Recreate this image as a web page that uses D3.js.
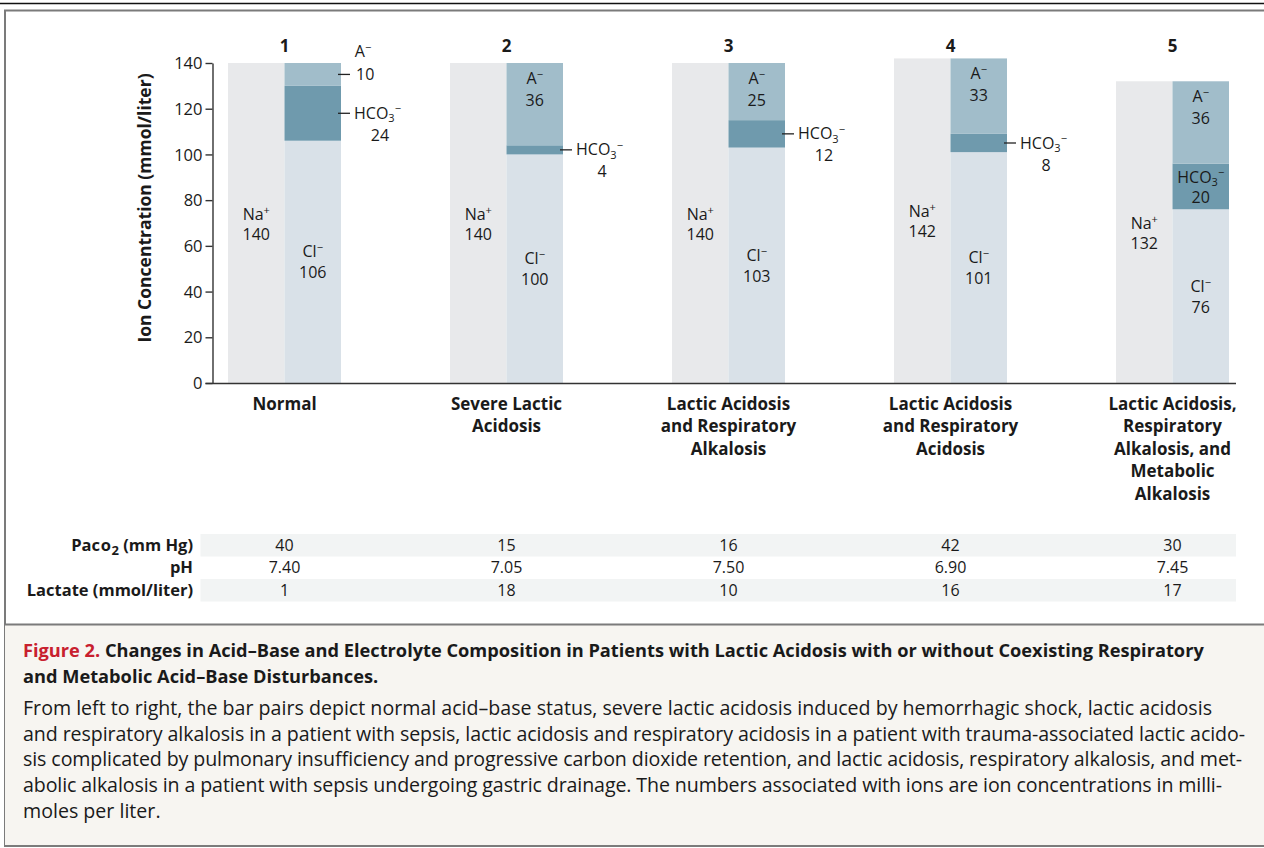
<!DOCTYPE html>
<html>
<head>
<meta charset="utf-8">
<script src="https://cdn.jsdelivr.net/npm/d3@7"></script>
<style>
  html, body { margin: 0; padding: 0; background: #fff; }
  svg { display: block; }
  text { font-family: "Open Sans", "Noto Sans", sans-serif; fill: #1a1a1a; }
</style>
</head>
<body>
<svg id="chart" width="1264" height="848"></svg>
<script>
// ---------------- DATA ----------------
const caseNumbers = ["1", "2", "3", "4", "5"];
const categoryLabels = [
  ["Normal"],
  ["Severe Lactic", "Acidosis"],
  ["Lactic Acidosis", "and Respiratory", "Alkalosis"],
  ["Lactic Acidosis", "and Respiratory", "Acidosis"],
  ["Lactic Acidosis,", "Respiratory", "Alkalosis, and", "Metabolic", "Alkalosis"]
];
const sodium      = [140, 140, 140, 142, 132];
const chloride    = [106, 100, 103, 101, 76];
const bicarbonate = [24, 4, 12, 8, 20];
const anionGap    = [10, 36, 25, 33, 36];
// label placement: true = label outside the bar with a leader line
const anionOutside = [true, false, false, false, false];
const bicarbOutside = [true, true, true, true, false];

const paco2   = ["40", "15", "16", "42", "30"];
const pH      = ["7.40", "7.05", "7.50", "6.90", "7.45"];
const lactate = ["1", "18", "10", "16", "17"];
const yTicks = [0, 20, 40, 60, 80, 100, 120, 140];

const captionTitle1 = "Changes in Acid\u2013Base and Electrolyte Composition in Patients with Lactic Acidosis with or without Coexisting Respiratory";
const captionTitle2 = "and Metabolic Acid\u2013Base Disturbances.";
const captionBody = [
  "From left to right, the bar pairs depict normal acid\u2013base status, severe lactic acidosis induced by hemorrhagic shock, lactic acidosis",
  "and respiratory alkalosis in a patient with sepsis, lactic acidosis and respiratory acidosis in a patient with trauma-associated lactic acido-",
  "sis complicated by pulmonary insufficiency and progressive carbon dioxide retention, and lactic acidosis, respiratory alkalosis, and met-",
  "abolic alkalosis in a patient with sepsis undergoing gastric drainage. The numbers associated with ions are ion concentrations in milli-",
  "moles per liter."
];

// ---------------- STYLE ----------------
const C = {
  na: "#e8e9eb", cl: "#d9e1e8", hco3: "#6f9aad", a: "#a1bdca",
  row: "#f2f4f4", capBg: "#f7f5f1", frame: "#7b7b7b", red: "#c8202e", axis: "#333"
};

const svg = d3.select("#chart");

// outer decoration
svg.append("line").attr("x1", 0).attr("x2", 1264).attr("y1", 3.5).attr("y2", 3.5)
  .attr("stroke", "#111").attr("stroke-width", 1.6);
svg.append("line").attr("x1", 4).attr("x2", 1264).attr("y1", 10.5).attr("y2", 10.5)
  .attr("stroke", C.frame).attr("stroke-width", 2);
svg.append("line").attr("x1", 5).attr("x2", 5).attr("y1", 10).attr("y2", 846)
  .attr("stroke", C.frame).attr("stroke-width", 2);
svg.append("rect").attr("x", 5).attr("y", 624.5).attr("width", 1262).attr("height", 221)
  .attr("fill", C.capBg);
svg.append("line").attr("x1", 4).attr("x2", 1264).attr("y1", 624.5).attr("y2", 624.5)
  .attr("stroke", C.frame).attr("stroke-width", 2);
svg.append("line").attr("x1", 4).attr("x2", 1264).attr("y1", 846).attr("y2", 846)
  .attr("stroke", C.frame).attr("stroke-width", 2);

// ---------------- SCALES ----------------
const y = d3.scaleLinear().domain([0, 140]).range([383, 63]);
const x = d3.scalePoint().domain(caseNumbers).range([284.5, 1172.5]);
const barW = 56.5;

const g = svg.append("g");

const data = caseNumbers.map((k, i) => ({
  k, i, na: sodium[i], cl: chloride[i], h: bicarbonate[i], a: anionGap[i]
}));

data.forEach(d => {
  const cx = x(d.k);
  g.append("rect").attr("x", cx - barW).attr("width", barW)
    .attr("y", y(d.na)).attr("height", y(0) - y(d.na)).attr("fill", C.na);
  g.append("rect").attr("x", cx).attr("width", barW)
    .attr("y", y(d.cl)).attr("height", y(0) - y(d.cl)).attr("fill", C.cl);
  g.append("rect").attr("x", cx).attr("width", barW)
    .attr("y", y(d.cl + d.h)).attr("height", y(d.cl) - y(d.cl + d.h)).attr("fill", C.hco3);
  g.append("rect").attr("x", cx).attr("width", barW)
    .attr("y", y(d.cl + d.h + d.a)).attr("height", y(d.cl + d.h) - y(d.cl + d.h + d.a)).attr("fill", C.a);
});

// axis
const axisG = svg.append("g").attr("transform", "translate(212.5,0)")
  .call(d3.axisLeft(y).tickValues(yTicks).tickSize(7).tickSizeOuter(0).tickPadding(3));
axisG.select(".domain").attr("stroke", C.axis).attr("stroke-width", 1.4);
axisG.selectAll(".tick line").attr("stroke", C.axis).attr("stroke-width", 1.4);
axisG.selectAll(".tick text").attr("font-size", 16.5).attr("font-family", "'Open Sans', sans-serif")
  .attr("fill", "#1a1a1a").attr("dy", "0.34em");
svg.append("line").attr("x1", 205.5).attr("x2", 1236).attr("y1", y(0) + 0.5).attr("y2", y(0) + 0.5)
  .attr("stroke", C.axis).attr("stroke-width", 1.4);

// y title
svg.append("text").attr("transform", "translate(151,208) rotate(-90)")
  .attr("text-anchor", "middle").attr("font-size", 17.5).attr("font-weight", 700)
  .text("Ion Concentration (mmol/liter)");

// label helpers
function ionName(sel, base, sup, sub) {
  sel.append("tspan").text(base);
  if (sub) sel.append("tspan").attr("dy", 3.5).attr("font-size", 11).text(sub);
  if (sup) sel.append("tspan").attr("dy", sub ? -10 : -6).attr("font-size", 11).text(sup);
}
function label(xp, yc, anchor, base, sup, sub) {
  const t = g.append("text").attr("x", xp).attr("y", yc + 5.6)
    .attr("text-anchor", anchor).attr("font-size", 16);
  ionName(t, base, sup, sub);
  return t;
}
function valueText(xp, yc, anchor, v) {
  return g.append("text").attr("x", xp).attr("y", yc + 5.6).attr("text-anchor", anchor)
    .attr("font-size", 16).text(v);
}
function leader(xr, yc) {
  g.append("line").attr("x1", xr - 3).attr("x2", xr + 9).attr("y1", yc).attr("y2", yc)
    .attr("stroke", "#222").attr("stroke-width", 1.3);
}

data.forEach(d => {
  const cx = x(d.k);
  const naMid = y(d.na / 2);
  label(cx - barW / 2, naMid - 9, "middle", "Na", "+");
  valueText(cx - barW / 2, naMid + 11, "middle", d.na);

  const clMid = y(d.cl / 2);
  label(cx + barW / 2, clMid - 10, "middle", "Cl", "\u2212");
  valueText(cx + barW / 2, clMid + 11, "middle", d.cl);

  const right = cx + barW;
  const hMid = y(d.cl + d.h / 2);
  if (bicarbOutside[d.i]) {
    leader(right, hMid);
    label(right + 13, hMid, "start", "HCO", "\u2212", "3");
    valueText(right + 39, hMid + 22, "middle", d.h);
  } else {
    label(cx + barW / 2, hMid - 9.5, "middle", "HCO", "\u2212", "3");
    valueText(cx + barW / 2, hMid + 11, "middle", d.h);
  }
  const aTop = y(d.cl + d.h + d.a);
  const aMid = y(d.cl + d.h + d.a / 2);
  if (anionOutside[d.i]) {
    leader(right, aMid);
    label(right + 22, aMid - 23, "middle", "A", "\u2212");
    valueText(right + 15, aMid, "start", d.a);
  } else {
    label(cx + barW / 2, aTop + 15, "middle", "A", "\u2212");
    valueText(cx + barW / 2, aTop + 37, "middle", d.a);
  }
});

// case numbers
svg.append("g").selectAll("text").data(caseNumbers).join("text")
  .attr("x", d => x(d)).attr("y", 51.5).attr("text-anchor", "middle")
  .attr("font-size", 17).attr("font-weight", 700).text(d => d);

// category labels
categoryLabels.forEach((lines, i) => {
  const t = svg.append("text").attr("text-anchor", "middle").attr("font-size", 17)
    .attr("font-weight", 700);
  lines.forEach((ln, j) => {
    t.append("tspan").attr("x", x(caseNumbers[i])).attr("y", 410 + j * 22.4).text(ln);
  });
});

// ---------------- TABLE ----------------
const rows = [
  { label: ["Pa", "co", "2", " (mm Hg)"], vals: paco2, yc: 545.5, bg: true },
  { label: ["pH"], vals: pH, yc: 567.5, bg: false },
  { label: ["Lactate (mmol/liter)"], vals: lactate, yc: 590.5, bg: true }
];
rows.forEach(r => {
  if (r.bg) svg.append("rect").attr("x", 200.5).attr("y", r.yc - 11.5).attr("width", 1035.5)
    .attr("height", 22.5).attr("fill", C.row);
});
rows.forEach(r => {
  const t = svg.append("text").attr("x", 193).attr("y", r.yc + 5.6).attr("text-anchor", "end")
    .attr("font-size", 16.5).attr("font-weight", 700);
  if (r.label.length > 1) {
    t.append("tspan").text(r.label[0]);
    t.append("tspan").attr("letter-spacing", 0.6).text(r.label[1]);
    t.append("tspan").attr("dy", 4).attr("font-size", 13).text(r.label[2]);
    t.append("tspan").attr("dy", -4).text(r.label[3]);
  } else t.text(r.label[0]);
  svg.append("g").selectAll("text").data(r.vals).join("text")
    .attr("x", (v, i) => x(caseNumbers[i])).attr("y", r.yc + 5.6)
    .attr("text-anchor", "middle").attr("font-size", 16).text(v => v);
});

// ---------------- CAPTION ----------------
const capX = 23;
const t1 = svg.append("text").attr("x", capX).attr("y", 657).attr("font-size", 17).attr("font-weight", 700);
t1.append("tspan").style("fill", C.red).text("Figure 2. ");
t1.append("tspan").text(captionTitle1);
const t2 = svg.append("text").attr("x", capX).attr("y", 683).attr("font-size", 17).attr("font-weight", 700)
  .text(captionTitle2);

const bodyEnds = [1212, 1245, 1242, 1222, null];
const bodyTexts = captionBody.map((ln, i) =>
  svg.append("text").attr("x", capX).attr("y", 715 + i * 25.7).attr("font-size", 17).text(ln));
const nat = bodyTexts[0].node().getComputedTextLength();
const fs = 17 * (bodyEnds[0] - capX) / nat;
bodyTexts.forEach((t, i) => {
  t.attr("font-size", fs);
  if (bodyEnds[i]) t.attr("textLength", bodyEnds[i] - capX).attr("lengthAdjust", "spacing");
});
const natT = t1.node().getComputedTextLength();
const fsT = 17 * (1205 - capX) / natT;
t1.attr("font-size", fsT);
t2.attr("font-size", fsT);
</script>
</body>
</html>
